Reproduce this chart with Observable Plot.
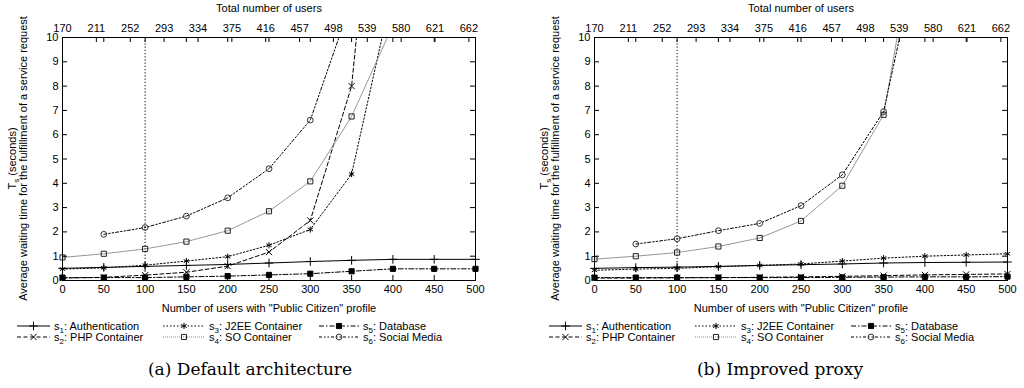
<!DOCTYPE html>
<html><head><meta charset="utf-8">
<script src="https://cdn.jsdelivr.net/npm/d3@7"></script>
<script src="https://cdn.jsdelivr.net/npm/@observablehq/plot@0.6"></script>
<style>
body{margin:0;background:#fff;width:1024px;height:388px;overflow:hidden;position:relative;font-family:"Liberation Sans",Arial,sans-serif;}
.panel{position:absolute;top:0;width:512px;height:345px;}
.panel svg, .panel svg text{font-family:"Liberation Sans",Arial,sans-serif !important;}
.caption{position:absolute;font-family:"DejaVu Serif",serif;font-size:17px;line-height:20px;white-space:nowrap;transform:translateX(-50%);color:#000;}
</style></head><body>
<div id="a" class="panel" style="left:0"></div>
<div id="b" class="panel" style="left:512px"></div>
<div class="caption" style="left:250px;top:359px">(a) Default architecture</div>
<div class="caption" style="left:780px;top:359px">(b) Improved proxy</div>
<script>
// ---- data ----
const users = [0, 50, 100, 150, 200, 250, 300, 350, 400, 450, 500];
const xTicks = [0, 50, 100, 150, 200, 250, 300, 350, 400, 450, 500];
const yTicks = [0, 1, 2, 3, 4, 5, 6, 7, 8, 9, 10];
const totalUsersTicks = [170, 211, 252, 293, 334, 375, 416, 457, 498, 539, 580, 621, 662];
const baseTotalUsers = 170;
const referenceUsers = [100];
const seriesIndex = ["1", "2", "3", "4", "5", "6"];
const seriesNames = ["Authentication", "PHP Container", "J2EE Container", "SO Container", "Database", "Social Media"];

// (a) Default architecture
const defaultS1 = [0.50, 0.54, 0.58, 0.62, 0.66, 0.72, 0.78, 0.83, 0.87, 0.87, 0.87];
const defaultS2 = [0.10, 0.13, 0.22, 0.34, 0.59, 1.17, 2.47, 8.00, 25.0, null, null];
const defaultS3 = [0.47, 0.52, 0.63, 0.80, 0.98, 1.45, 2.10, 4.38, 12.0, null, null];
const defaultS4 = [0.95, 1.10, 1.30, 1.60, 2.05, 2.85, 4.08, 6.75, 10.5, null, null];
const defaultS5 = [0.12, 0.12, 0.12, 0.15, 0.18, 0.23, 0.28, 0.38, 0.48, 0.48, 0.48];
const defaultS6 = [null, 1.90, 2.18, 2.65, 3.40, 4.60, 6.60, 11.5, null, null, null];

// (b) Improved proxy
const proxyS1 = [0.50, 0.53, 0.55, 0.58, 0.62, 0.65, 0.68, 0.72, 0.74, 0.75, 0.76];
const proxyS2 = [0.10, 0.10, 0.11, 0.12, 0.13, 0.15, 0.17, 0.20, 0.23, 0.25, 0.27];
const proxyS3 = [0.42, 0.47, 0.50, 0.57, 0.62, 0.68, 0.80, 0.92, 1.00, 1.05, 1.10];
const proxyS4 = [0.88, 1.00, 1.15, 1.40, 1.75, 2.45, 3.90, 6.82, 16.5, null, null];
const proxyS5 = [0.12, 0.12, 0.12, 0.12, 0.12, 0.12, 0.13, 0.14, 0.15, 0.15, 0.16];
const proxyS6 = [null, 1.50, 1.72, 2.05, 2.35, 3.08, 4.35, 6.95, 14.8, null, null];

// ---- styles ----
const STYLE = [
  {stroke: "#000", dash: null, symbol: "plus", fill: "none", mstroke: "#000"},
  {stroke: "#000", dash: "4,2.5", symbol: "times", fill: "none", mstroke: "#000"},
  {stroke: "#000", dash: "1.5,2", symbol: "asterisk", fill: "none", mstroke: "#000"},
  {stroke: "#888", dash: "1,1", symbol: "square", fill: "none", mstroke: "#222"},
  {stroke: "#000", dash: "5,2,1.5,2", symbol: "square", fill: "#000", mstroke: "#000"},
  {stroke: "#000", dash: "3,2,1.5,2,1.5,2", symbol: "circle", fill: "none", mstroke: "#333"}
];
const D3SYM = {plus: d3.symbolPlus, times: d3.symbolTimes, asterisk: d3.symbolAsterisk, square: d3.symbolSquare, circle: d3.symbolCircle};
const R = 2.9;

function drawPanel(el, vals, ml, mr, shift) {
  const W = 512, H = 345, mt = 37, mb = 65;
  const frameW = W - ml - mr, frameH = H - mt - mb;
  const marks = [
    Plot.ruleX(referenceUsers, {x: d => d, stroke: "#000", strokeWidth: 1, strokeDasharray: "1.2,2"})
  ];
  vals.forEach((arr, i) => {
    const st = STYLE[i];
    const rows = users.map((u, j) => ({x: u, y: arr[j]})).filter(r => r.y != null);
    marks.push(Plot.line(rows, {x: "x", y: "y", stroke: st.stroke, strokeWidth: 1, strokeDasharray: st.dash, clip: true}));
    marks.push(Plot.dot(rows.filter(r => r.y <= 10), {x: "x", y: "y", symbol: st.symbol, r: R, stroke: st.mstroke, fill: st.fill, strokeWidth: 1}));
  });
  marks.push(
    Plot.frame({stroke: "#000", strokeWidth: 1}),
    Plot.tickX(xTicks, {x: d => d, stroke: "#000", insetTop: frameH - 5}),
    Plot.tickX(xTicks, {x: d => d, stroke: "#000", insetBottom: frameH - 5}),
    Plot.tickX(totalUsersTicks, {x: d => d - baseTotalUsers, stroke: "#000", insetBottom: frameH - 5}),
    Plot.tickY(yTicks, {y: d => d, stroke: "#000", insetRight: frameW - 5}),
    Plot.tickY(yTicks, {y: d => d, stroke: "#000", insetLeft: frameW - 5}),
    Plot.axisX(xTicks, {anchor: "bottom", tickSize: 0, tickPadding: 5, label: 'Number of users with "Public Citizen" profile', labelAnchor: "center", labelArrow: "none", labelOffset: 31}),
    Plot.axisX(totalUsersTicks.map(t => t - baseTotalUsers), {anchor: "top", tickSize: 0, tickPadding: 6, tickFormat: d => String(d + baseTotalUsers), label: "Total number of users", labelAnchor: "center", labelArrow: "none", labelOffset: 33}),
    Plot.axisY(yTicks, {anchor: "left", tickSize: 0, tickPadding: 4, label: null})
  );
  const svg = Plot.plot({
    width: W, height: H, marginLeft: ml, marginRight: mr, marginTop: mt, marginBottom: mb,
    x: {domain: [0, 500]},
    y: {domain: [0, 10]},
    style: {fontSize: "11px", color: "#000", background: "#fff"},
    marks
  });
  el.appendChild(svg);
  const s = d3.select(svg);
  // y-axis title (two lines, rotated)
  const cy = mt + frameH / 2;
  const g = s.append("g").attr("transform", `translate(${ml - 44},${cy}) rotate(-90)`)
    .attr("font-size", 11).attr("fill", "#000").attr("text-anchor", "middle");
  const t1 = g.append("text").attr("y", -5.5).attr("dy", "0.35em");
  t1.append("tspan").text("T");
  t1.append("tspan").attr("font-size", 8).attr("dy", 3).text("s");
  t1.append("tspan").attr("dy", -3).text(" (seconds)");
  g.append("text").attr("y", 5.5).attr("dy", "0.35em").text("Average waiting time for the fulfillment of a service request");
  // legend
  const sampleX = [17, 163, 319], sampleW = [33, 42, 40], textX = [54, 209, 363], rowY = [326, 337];
  const lg = s.append("g").attr("font-size", 11).attr("fill", "#000").attr("text-anchor", "start");
  seriesNames.forEach((name, i) => {
    const col = Math.floor(i / 2), row = i % 2, st = STYLE[i];
    const x0 = sampleX[col] + shift, x1 = x0 + sampleW[col], y = rowY[row];
    lg.append("line").attr("x1", x0).attr("x2", x1).attr("y1", y).attr("y2", y)
      .attr("stroke", st.stroke).attr("stroke-width", 1).attr("stroke-dasharray", st.dash);
    lg.append("path").attr("d", d3.symbol(D3SYM[st.symbol], R * R * Math.PI)())
      .attr("transform", `translate(${(x0 + x1) / 2},${y})`)
      .attr("fill", st.fill).attr("stroke", st.mstroke).attr("stroke-width", 1);
    const tx = lg.append("text").attr("x", textX[col] + shift).attr("y", y).attr("dy", "0.35em");
    tx.append("tspan").text("s");
    tx.append("tspan").attr("font-size", 8).attr("dy", 3).text(seriesIndex[i]);
    tx.append("tspan").attr("dy", -3).text(": " + name);
  });
}

drawPanel(document.getElementById("a"), [defaultS1, defaultS2, defaultS3, defaultS4, defaultS5, defaultS6], 62, 37, 0);
drawPanel(document.getElementById("b"), [proxyS1, proxyS2, proxyS3, proxyS4, proxyS5, proxyS6], 82, 17, 20);
</script>
</body></html>
